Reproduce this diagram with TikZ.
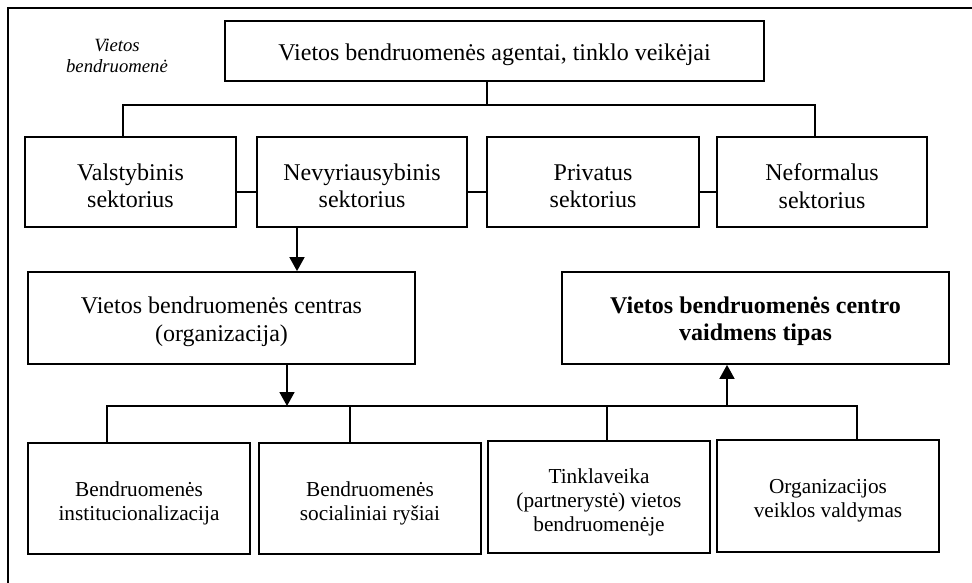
\documentclass[tikz,border=0pt]{standalone}
\usepackage{fontspec}
\setmainfont{Liberation Serif}
\usetikzlibrary{arrows.meta}
\begin{document}
\begin{tikzpicture}[x=1pt,y=-1pt,
  box/.style={draw,line width=1.8pt,rectangle,inner sep=0pt},
  btxt/.style={align=center,inner sep=0pt,yshift=-4pt,font=\fontsize{24}{27.5}\selectfont},
  stxt/.style={align=center,inner sep=0pt,yshift=-5pt,font=\fontsize{21.3}{24}\selectfont},
  conn/.style={line width=1.8pt},
  arr/.style={line width=1.8pt,-{Triangle[length=14pt,width=15pt]}}]
\useasboundingbox (0,0) rectangle (972,583);
\draw[line width=2.6pt] (8,583) -- (8,8) -- (972,8);
\node[align=center,font=\itshape\fontsize{18.7}{21}\selectfont] (lbl) at (117,56) {Vietos\\bendruomenė};
\node[box,minimum width=539pt,minimum height=60pt,label={[btxt]center:{Vietos bendruomenės agentai, tinklo veikėjai}}] (top) at (494.5,51) {};
\node[box,minimum width=211pt,minimum height=90pt,label={[btxt]center:{Valstybinis\\sektorius}}] (valst) at (130.5,182) {};
\node[box,minimum width=210pt,minimum height=90pt,label={[btxt]center:{Nevyriausybinis\\sektorius}}] (nevy) at (362,182) {};
\node[box,minimum width=212pt,minimum height=90pt,label={[btxt]center:{Privatus\\sektorius}}] (priv) at (593,182) {};
\node[box,minimum width=210pt,minimum height=90pt,label={[btxt]center:{Neformalus\\sektorius}}] (nef) at (822,182) {};
\node[box,minimum width=387pt,minimum height=92pt,label={[btxt]center:{Vietos bendruomenės centras\\(organizacija)}}] (centras) at (221.5,318) {};
\node[box,minimum width=387pt,minimum height=92pt,label={[btxt,yshift=1pt,font=\bfseries\fontsize{24}{27.5}\selectfont]center:{Vietos bendruomenės centro\\vaidmens tipas}}] (tipas) at (755.5,318) {};
\node[box,minimum width=222pt,minimum height=111pt,label={[stxt]center:{Bendruomenės\\institucionalizacija}}] (b1) at (139,498.5) {};
\node[box,minimum width=222pt,minimum height=111pt,label={[stxt]center:{Bendruomenės\\socialiniai ryšiai}}] (b2) at (370,498.5) {};
\node[box,minimum width=222pt,minimum height=112pt,label={[stxt]center:{Tinklaveika\\(partnerystė) vietos\\bendruomenėje}}] (b3) at (599,497) {};
\node[box,minimum width=222pt,minimum height=112pt,label={[stxt]center:{Organizacijos\\veiklos valdymas}}] (b4) at (828,496) {};
% top tree
\coordinate (j0) at (487,105);
\coordinate (jL) at (123,105);
\coordinate (jR) at (815,105);
\draw[conn] (top.south -| j0) -- (j0);
\draw[conn] (valst.north -| jL) -- (jL) -- (jR) -- (nef.north -| jR);
% sector links
\draw[conn] ([yshift=-10pt]valst.east) -- ([yshift=-10pt]nevy.west);
\draw[conn] ([yshift=-10pt]nevy.east) -- ([yshift=-10pt]priv.west);
\draw[conn] ([yshift=-10pt]priv.east) -- ([yshift=-10pt]nef.west);
% arrows
\coordinate (a1) at (297,250);
\draw[arr] (nevy.south -| a1) -- (centras.north -| a1);
\coordinate (a2) at (287,406);
\draw[arr] (centras.south -| a2) -- (a2);
% bottom tree
\coordinate (bL) at (107,406);
\coordinate (bR) at (857,406);
\coordinate (b2j) at (350,406);
\coordinate (b3j) at (607,406);
\coordinate (u) at (727,406);
\draw[conn] (b1.north -| bL) -- (bL) -- (bR) -- (b4.north -| bR);
\draw[conn] (b2j) -- (b2.north -| b2j);
\draw[conn] (b3j) -- (b3.north -| b3j);
\draw[arr] (u) -- (tipas.south -| u);
\end{tikzpicture}
\end{document}
